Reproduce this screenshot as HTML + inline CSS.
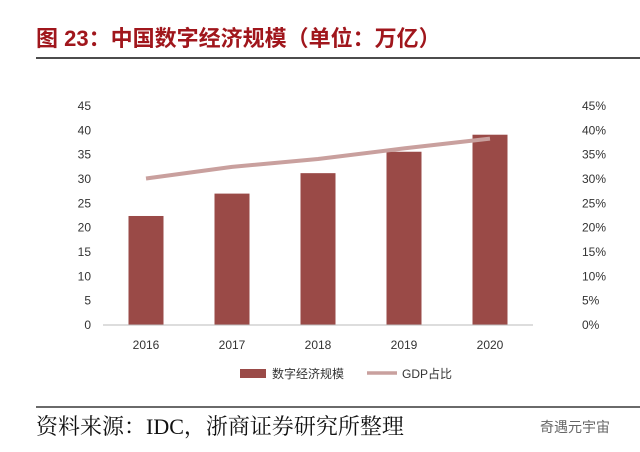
<!DOCTYPE html>
<html><head><meta charset="utf-8"><style>
body{margin:0;width:640px;height:452px;background:#fff;overflow:hidden;font-family:"Liberation Sans","Noto Sans CJK SC",sans-serif}
svg{position:absolute;left:0;top:0}
</style></head><body>
<svg width="640" height="452">
<text x="36" y="46" font-family="'Liberation Sans','Noto Sans CJK SC',sans-serif" font-weight="bold" font-size="22" fill="#a0161c">图 23：中国数字经济规模（单位：万亿）</text>
<line x1="36" y1="58" x2="640" y2="58" stroke="#111" stroke-width="1.5"/>
<g id="plot"></g>
<g>
<rect x="240" y="369" width="26" height="9" fill="#9a4a47"/>
<text x="272" y="378" font-size="12" fill="#333">数字经济规模</text>
<line x1="367" y1="373" x2="397" y2="373" stroke="#c9a09e" stroke-width="3.5"/>
<text x="402" y="378" font-size="12" fill="#333">GDP占比</text>
</g>
<line x1="36" y1="407" x2="640" y2="407" stroke="#111" stroke-width="1.2"/>
<text x="36" y="434" font-family="'Liberation Serif','Noto Serif CJK SC',serif" font-size="22" fill="#111">资料来源：IDC，浙商证券研究所整理</text>
<text x="540" y="432" font-size="14" fill="#666">奇遇元宇宙</text>
</svg>
<script>
const categories=["2016","2017","2018","2019","2020"];
const scaleValues=[22.4,27.0,31.2,35.6,39.1];
const gdpShare=[30.1,32.5,34.1,36.3,38.3];
const leftTicks=[0,5,10,15,20,25,30,35,40,45];
const rightTicks=[0,5,10,15,20,25,30,35,40,45];
const NS="http://www.w3.org/2000/svg";
const g=document.getElementById('plot');
const X0=103,X1=533,Y0=325,Y1=106;
const yL=v=>Y0-(v/45)*(Y0-Y1);
const yR=v=>Y0-(v/45)*(Y0-Y1);
const band=(X1-X0)/categories.length;
const xc=i=>X0+band*(i+0.5);
function mk(t,a){const e=document.createElementNS(NS,t);for(const k in a)e.setAttribute(k,a[k]);g.appendChild(e);return e;}
leftTicks.forEach(v=>{const t=mk('text',{x:91,y:yL(v)+4,'text-anchor':'end','font-size':12,fill:'#333'});t.textContent=v;

});
rightTicks.forEach(v=>{const t=mk('text',{x:582,y:yR(v)+4,'font-size':12,fill:'#333'});t.textContent=v+'%';

});
scaleValues.forEach((v,i)=>{const r=mk('rect',{x:xc(i)-17.5,y:yL(v),width:35,height:Y0-yL(v),fill:'#9a4a47'});

});
const ax=mk('line',{x1:X0,y1:Y0,x2:X1,y2:Y0,stroke:'#bbb','stroke-width':1});


categories.forEach((c,i)=>{const t=mk('text',{x:xc(i),y:349,'text-anchor':'middle','font-size':12,fill:'#333'});t.textContent=c;

});
const pl=mk('polyline',{points:gdpShare.map((v,i)=>xc(i)+','+yR(v)).join(' '),fill:'none',stroke:'#c9a09e','stroke-width':4,'stroke-linejoin':'round'});


</script>
</body></html>
